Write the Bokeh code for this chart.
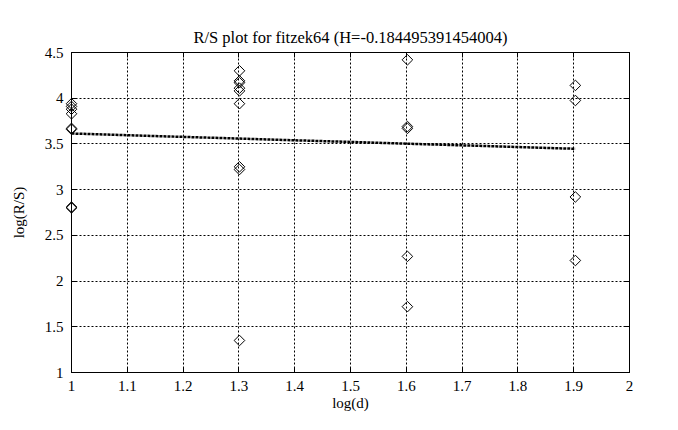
import numpy as np
from bokeh.plotting import figure
from bokeh.models import Range1d, LinearAxis, FixedTicker, CustomJSTickFormatter, ColumnDataSource
from bokeh.embed import file_html
from bokeh.resources import INLINE

# ---- data ----
title_text = "R/S plot for fitzek64 (H=-0.184495391454004)"
x_label = "log(d)"
y_label = "log(R/S)"

x_d10 = [1.0, 1.0, 1.0, 1.0, 1.0, 1.0, 1.0, 1.0]
y_d10 = [3.94, 3.91, 3.88, 3.83, 3.67, 3.66, 2.81, 2.80]
x_d20 = [1.301, 1.301, 1.301, 1.301, 1.301, 1.301, 1.301, 1.301, 1.301]
y_d20 = [4.30, 4.19, 4.17, 4.11, 4.08, 3.94, 3.25, 3.22, 1.35]
x_d40 = [1.602, 1.602, 1.602, 1.602, 1.602]
y_d40 = [4.42, 3.69, 3.67, 2.27, 1.72]
x_d80 = [1.903, 1.903, 1.903, 1.903]
y_d80 = [4.14, 3.975, 2.92, 2.225]

fit_x = [1.0, 1.903]
fit_y = [3.614, 3.447]

x_ticks = [1.0, 1.1, 1.2, 1.3, 1.4, 1.5, 1.6, 1.7, 1.8, 1.9, 2.0]
x_tick_labels = ["1", "1.1", "1.2", "1.3", "1.4", "1.5", "1.6", "1.7", "1.8", "1.9", "2"]
y_ticks = [1.0, 1.5, 2.0, 2.5, 3.0, 3.5, 4.0, 4.5]
y_tick_labels = ["1", "1.5", "2", "2.5", "3", "3.5", "4", "4.5"]

FONT = "Liberation Serif"

p = figure(width=662, height=414, output_backend="svg", toolbar_location=None,
           x_range=Range1d(1, 2), y_range=Range1d(1, 4.5),
           min_border_left=71, min_border_right=33, min_border_top=52, min_border_bottom=42,
           title=title_text)
p.background_fill_color = "white"
p.border_fill_color = "white"
p.outline_line_color = "black"
p.outline_line_width = 1

p.title.text_font = FONT
p.title.text_font_size = "16.5px"
p.title.text_font_style = "normal"
p.title.align = "center"
p.title.text_color = "black"
p.title.standoff = 11

def style_axis(ax, ticks, labels, show):
    ax.ticker = FixedTicker(ticks=ticks)
    ax.major_tick_in = 5
    ax.major_tick_out = 0
    ax.minor_tick_in = 0
    ax.minor_tick_out = 0
    ax.axis_line_color = "black"
    ax.major_tick_line_color = "black"
    ax.major_label_text_font = FONT
    ax.major_label_text_font_size = "15px"
    ax.major_label_text_color = "black"
    if show:
        ax.major_label_overrides = {t: l for t, l in zip(ticks, labels)}
    else:
        ax.formatter = CustomJSTickFormatter(code="return ''")
        ax.major_label_standoff = 0

xa = p.xaxis[0]
ya = p.yaxis[0]
style_axis(xa, x_ticks, x_tick_labels, True)
style_axis(ya, y_ticks, y_tick_labels, True)
xa.major_label_standoff = 8
ya.major_label_standoff = 8
xa.axis_label = x_label
ya.axis_label = y_label
for ax in (xa, ya):
    ax.axis_label_text_font = FONT
    ax.axis_label_text_font_size = "15px"
    ax.axis_label_text_font_style = "normal"
    ax.axis_label_text_color = "black"
xa.axis_label_standoff = 1
ya.axis_label_standoff = 15

top = LinearAxis()
right = LinearAxis()
style_axis(top, x_ticks, x_tick_labels, False)
style_axis(right, y_ticks, y_tick_labels, False)
p.add_layout(top, "above")
p.add_layout(right, "right")

p.xgrid.ticker = FixedTicker(ticks=x_ticks)
p.ygrid.ticker = FixedTicker(ticks=y_ticks)
for g in (p.xgrid[0], p.ygrid[0]):
    g.grid_line_color = "black"
    g.grid_line_dash = "2 2"
    g.grid_line_width = 1
    g.grid_line_alpha = 1.0

# fit line
p.line(fit_x, fit_y, line_color="black", line_width=2.5, line_dash="3 1")

# points
all_x = x_d10 + x_d20 + x_d40 + x_d80
all_y = y_d10 + y_d20 + y_d40 + y_d80
src = ColumnDataSource(dict(x=all_x, y=all_y))
p.scatter("x", "y", source=src, marker="square", size=7.5, angle=np.pi / 4,
          fill_color=None, line_color="black", line_width=1, level="overlay")

open("out.html", "w").write(file_html(p, INLINE))
